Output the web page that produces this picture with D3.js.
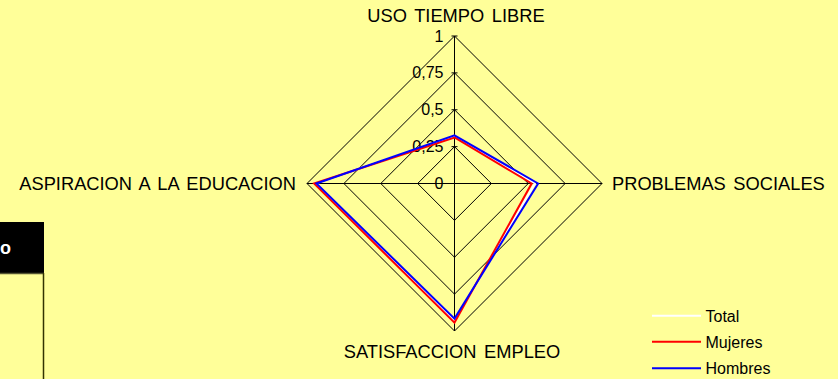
<!DOCTYPE html>
<html>
<head>
<meta charset="utf-8">
<script src="https://cdn.jsdelivr.net/npm/d3@7"></script>
<style>
  html, body { margin: 0; padding: 0; background: #FFFF99; }
  svg { display: block; font-family: "Liberation Sans", Arial, sans-serif; }
</style>
</head>
<body>
<svg id="chart" width="838" height="379"></svg>
<script>
// ---- data ----
const categories = ["USO TIEMPO LIBRE", "PROBLEMAS SOCIALES", "SATISFACCION EMPLEO", "ASPIRACION A LA EDUCACION"];
const seriesNames = ["Total", "Mujeres", "Hombres"];
const totalValues   = [0.32, 0.545, 0.93, 0.944];
const mujeresValues = [0.312, 0.523, 0.943, 0.952];
const hombresValues = [0.327, 0.567, 0.916, 0.936];
const tickValues = [0, 0.25, 0.5, 0.75, 1];
const tickLabels = ["0", "0,25", "0,5", "0,75", "1"];
const seriesColors = ["#FFFFFF", "#FF0000", "#0000FF"];

const svg = d3.select("#chart");
const W = 838, H = 379;
svg.append("rect").attr("width", W).attr("height", H).attr("fill", "#FFFF99");

const cx = 454.5, cy = 183.5, R = 147.5;
const r = d3.scaleLinear().domain([0, 1]).range([0, R]);
const angle = d3.scaleLinear().domain([0, categories.length]).range([0, 2 * Math.PI]);

const g = svg.append("g").attr("transform", `translate(${cx},${cy})`);

// grid rings (diamonds)
const ringLine = d3.lineRadial().angle((d, i) => angle(i)).radius(d => r(d)).curve(d3.curveLinearClosed);
tickValues.filter(v => v > 0).forEach(v => {
  g.append("path")
    .attr("d", ringLine(categories.map(() => v)))
    .attr("fill", "none").attr("stroke", "#000").attr("stroke-width", 1);
});

// axes
categories.forEach((c, i) => {
  const a = angle(i);
  g.append("line")
    .attr("x1", 0).attr("y1", 0)
    .attr("x2", r(1) * Math.sin(a)).attr("y2", -r(1) * Math.cos(a))
    .attr("stroke", "#000").attr("stroke-width", 1);
});

// ticks on value axis (top)
tickValues.forEach(v => {
  g.append("line")
    .attr("x1", -3).attr("x2", 3)
    .attr("y1", -r(v)).attr("y2", -r(v))
    .attr("stroke", "#000").attr("stroke-width", 1);
});

// tick labels
tickValues.forEach((v, i) => {
  g.append("text")
    .attr("x", -11).attr("y", -r(v))
    .attr("dy", "0.35em")
    .attr("text-anchor", "end")
    .attr("font-size", 16).attr("fill", "#000")
    .text(tickLabels[i]);
});

// series
const dataLine = d3.lineRadial().angle((d, i) => angle(i)).radius(d => r(d)).curve(d3.curveLinearClosed);
[totalValues, mujeresValues, hombresValues].forEach((vals, k) => {
  g.append("path")
    .attr("d", dataLine(vals))
    .attr("fill", "none")
    .attr("stroke", seriesColors[k])
    .attr("stroke-width", 2)
    .attr("stroke-linejoin", "miter");
});

// category labels
const catStyle = sel => sel.attr("font-size", 18.3).attr("word-spacing", "2.5px").attr("fill", "#000");
svg.append("text").attr("x", 456).attr("y", 22).attr("text-anchor", "middle")
  .call(catStyle).text(categories[0]);
svg.append("text").attr("x", 612).attr("y", 189.5).attr("text-anchor", "start")
  .call(catStyle).text(categories[1]);
svg.append("text").attr("x", 452).attr("y", 357.5).attr("text-anchor", "middle")
  .call(catStyle).text(categories[2]);
svg.append("text").attr("x", 296).attr("y", 189.5).attr("text-anchor", "end")
  .call(catStyle).text(categories[3]);

// legend
const legend = svg.append("g");
seriesNames.forEach((name, i) => {
  const y = [315.7, 341.7, 368.3][i];
  legend.append("line").attr("x1", 652).attr("x2", 701).attr("y1", y).attr("y2", y)
    .attr("stroke", seriesColors[i]).attr("stroke-width", 2);
  legend.append("text").attr("x", 705.5).attr("y", y + 6)
    .attr("font-size", 16).text(name);
});

// cut-off table at left
svg.append("rect").attr("x", 0).attr("y", 222).attr("width", 44).attr("height", 51).attr("fill", "#000");
svg.append("text").attr("x", 0).attr("y", 254).attr("font-size", 18).attr("font-weight", "bold")
  .attr("fill", "#fff").text("o");
svg.append("line").attr("x1", 0).attr("x2", 44).attr("y1", 273.5).attr("y2", 273.5)
  .attr("stroke", "#555533").attr("stroke-width", 1.5);
svg.append("line").attr("x1", 43.5).attr("x2", 43.5).attr("y1", 273).attr("y2", 379)
  .attr("stroke", "#333300").attr("stroke-width", 1.5);
</script>
</body>
</html>
